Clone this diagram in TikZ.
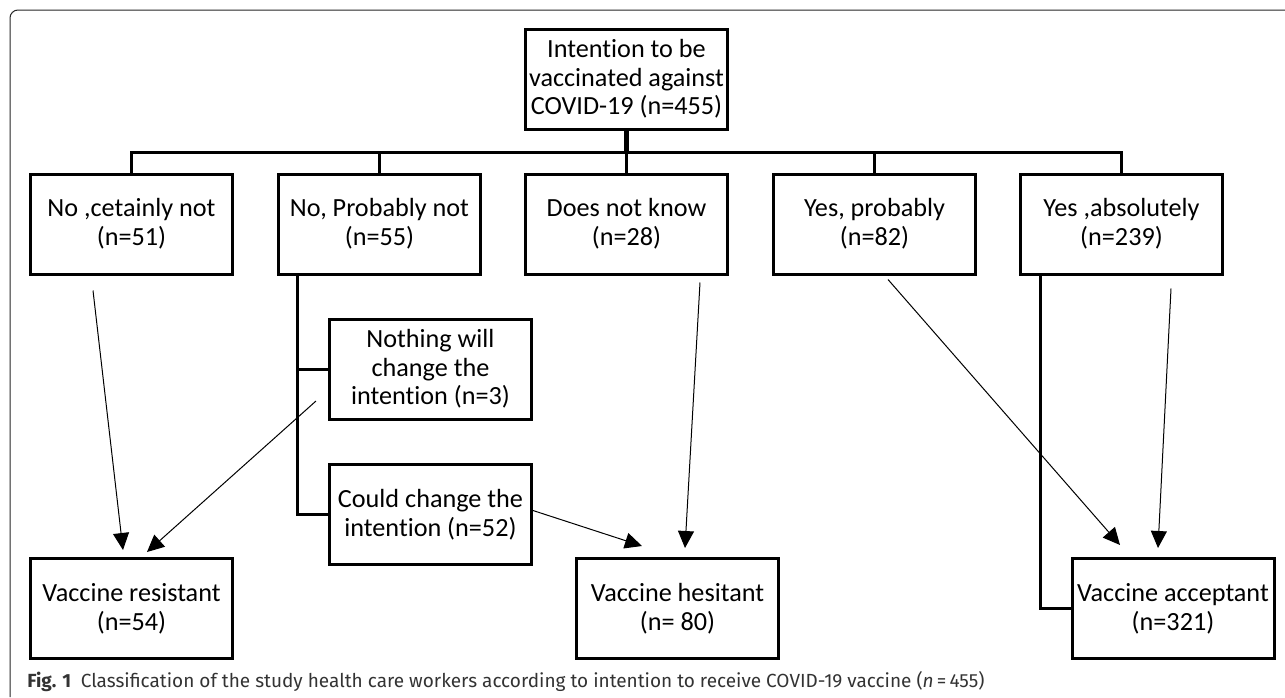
\documentclass[tikz,border=0pt]{standalone}
\usepackage{fontspec}
\setmainfont{Carlito}[Ligatures={NoCommon,NoContextual}, Contextuals=NoAlternate]
\newfontfamily\capfont{Fira Sans}
\usetikzlibrary{arrows.meta,calc}

\begin{document}
\begin{tikzpicture}[x=0.5pt, y=-0.5pt]
	  \tikzstyle{box} = [rectangle, draw, line width=1.5pt, minimum width=101pt, minimum height=50pt, align=center, inner sep=0pt, font=\fontsize{13.1}{14.3}\selectfont]
	  \tikzstyle{tree} = [line width=1.5pt]
	  \tikzstyle{arr} = [line width=0.5pt, -{Triangle[length=8.5pt,width=8pt]}]
	  \useasboundingbox (0,0) rectangle (1285,697);
	  \draw[line width=0.5pt, rounded corners=4pt, black!85] (10,697) -- (10,10) -- (1285,10);
	  % top and first level
	  \node[box] (0) at (626.5,79) {Intention to be\\vaccinated against\\COVID-19 (n=455)};
	  \node[box] (1) at (131.5,224) {No ,cetainly not\\(n=51)};
	  \node[box] (2) at (379.5,224) {No, Probably not\\(n=55)};
	  \node[box] (3) at (626.5,224) {Does not know\\(n=28)};
	  \node[box] (4) at (874.5,224) {Yes, probably\\(n=82)};
	  \node[box] (5) at (1121.5,224) {Yes ,absolutely\\(n=239)};
	  % second level
	  \node[box] (6) at (430.5,369) {Nothing will\\change the\\intention (n=3)};
	  \node[box] (7) at (430.5,514.5) {Could change the\\intention (n=52)};
	  % groups
	  \node[box] (8) at (131.5,608.5) {Vaccine resistant\\(n=54)};
	  \node[box] (9) at (677.5,608.5) {Vaccine hesitant\\(n= 80)};
	  \node[box] (10) at (1173,608.5) {Vaccine acceptant\\(n=321)};
	  \coordinate (bus) at (626.5,152);
	  \draw[line width=2.2pt] (0.south) -- (bus);
	  \draw[tree] (1.north) -- (1.north |- bus) -- (5.north |- bus) -- (5.north);
	  \foreach \i in {2,3,4}
	    \draw[tree] (\i.north) -- (\i.north |- bus);
	  \coordinate (stem) at ($(2.south west)+(20,0)$);
	  \draw[tree] (stem) |- (7.west);
	  \draw[tree] (stem |- 6.west) -- (6.west);
	  \draw[tree] ($(5.south west)+(21,0)$) |- (10.west);
	  \draw[arr] ($(1.south)+(-38.5,15)$) -- ($(8.north)+(-8.5,-7)$);
	  \draw[arr] ($(6.west)+(-12,32)$) -- ($(8.north)+(15.5,-5)$);
	  \draw[arr] ($(7.east)+(0,-4)$) -- ($(9.north)+(-35.5,-11)$);
	  \draw[arr] ($(3.south)+(73.5,7)$) -- ($(9.north)+(7.5,-9)$);
	  \draw[arr] ($(4.south)+(13.5,4)$) -- ($(10.north)+(-53,-12)$);
	  \draw[arr] ($(5.south)+(49.5,13)$) -- ($(10.north)+(-15,-9)$);
	  \node[anchor=west, inner sep=0pt, text=black!80, font={\capfont\fontsize{9.5}{11}\selectfont}] (cap) at (27,682) {\textbf{Fig. 1}\enspace Classification of the study health care workers according to intention to receive COVID-19 vaccine ({\itshape n}\,=\,455)};
	\end{tikzpicture}
\end{document}
